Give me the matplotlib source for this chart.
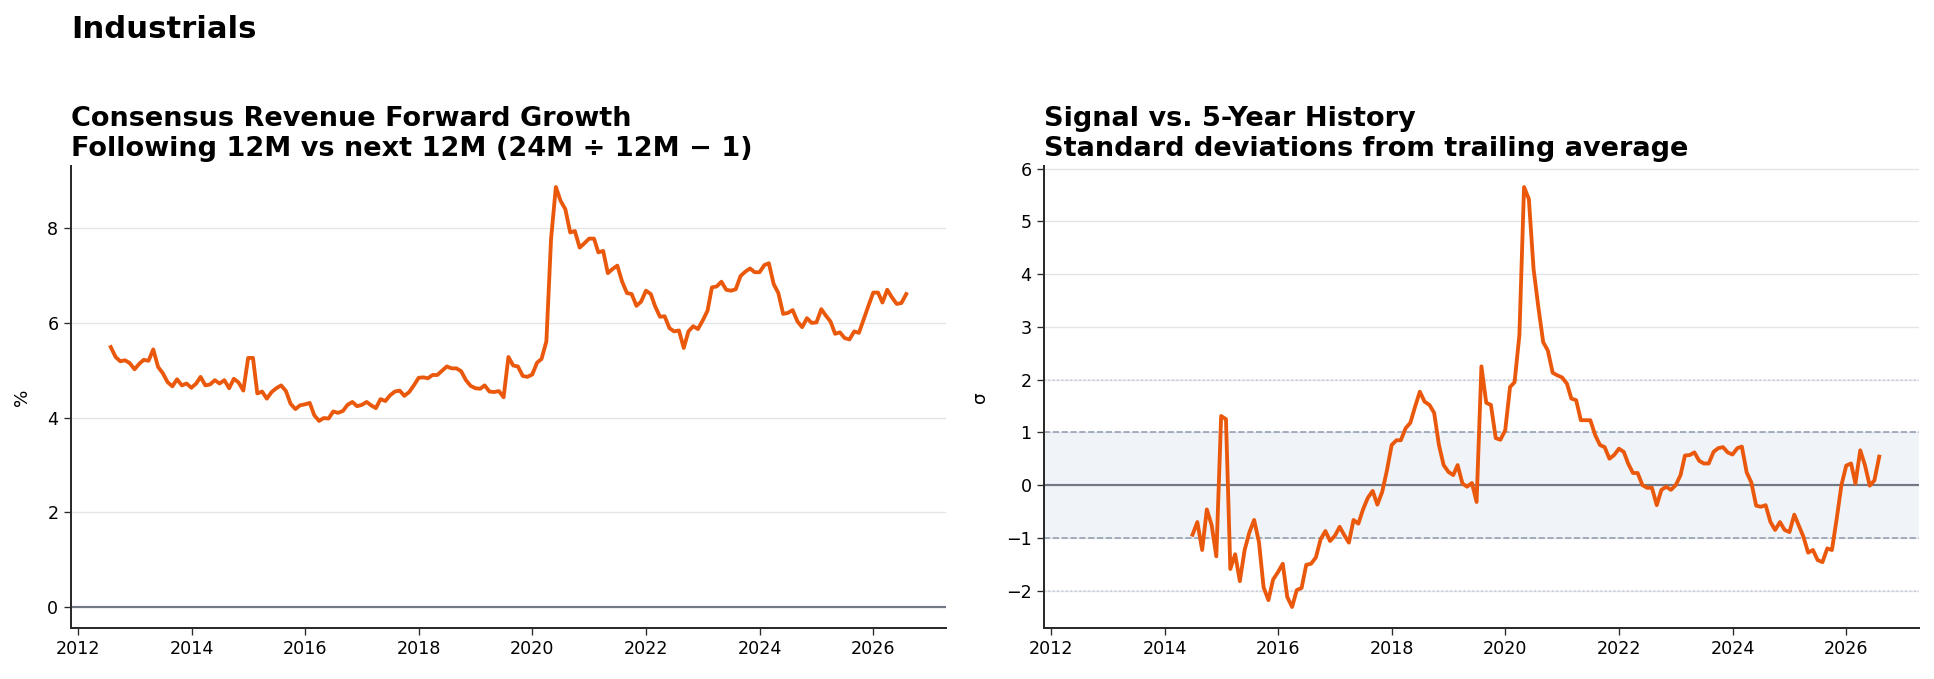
import numpy as np
import pandas as pd
import matplotlib
matplotlib.use('Agg')
import matplotlib.pyplot as plt
import matplotlib.dates as mdates

# monthly values
growth_start = '2012-07-31'
growth = [
    5.49, 5.28, 5.19, 5.21, 5.15, 5.02, 5.14, 5.22, 5.20, 5.44,
    5.07, 4.94, 4.75, 4.66, 4.81, 4.68, 4.72, 4.63, 4.72, 4.86,
    4.68, 4.70, 4.79, 4.72, 4.79, 4.62, 4.82, 4.74, 4.57, 5.26,
    5.26, 4.51, 4.55, 4.40, 4.54, 4.62, 4.68, 4.56, 4.29, 4.18,
    4.26, 4.28, 4.31, 4.05, 3.93, 3.99, 3.98, 4.13, 4.10, 4.14,
    4.27, 4.33, 4.24, 4.27, 4.33, 4.26, 4.20, 4.39, 4.35, 4.47,
    4.55, 4.57, 4.46, 4.54, 4.68, 4.84, 4.85, 4.83, 4.90, 4.90,
    4.99, 5.08, 5.04, 5.04, 4.98, 4.79, 4.67, 4.62, 4.61, 4.68,
    4.55, 4.54, 4.56, 4.43, 5.28,
    5.10, 5.08, 4.88, 4.86, 4.91, 5.16, 5.24, 5.61, 7.77, 8.87,
    8.58, 8.40, 7.91, 7.94, 7.59, 7.68, 7.78, 7.78, 7.49, 7.52,
    7.05, 7.14, 7.21, 6.87, 6.63, 6.61, 6.36, 6.45, 6.68, 6.61,
    6.35, 6.13, 6.14, 5.89, 5.82, 5.84, 5.47, 5.82, 5.93, 5.87,
    6.05, 6.26, 6.75, 6.77, 6.87, 6.70, 6.68, 6.71, 6.99, 7.08,
    7.15, 7.07, 7.07, 7.22, 7.26, 6.82, 6.63, 6.19, 6.21, 6.27,
    6.03, 5.91, 6.10, 6.00, 6.01, 6.29, 6.16, 6.03, 5.77, 5.80,
    5.68, 5.65, 5.82, 5.79, 6.08, 6.36, 6.64, 6.64, 6.43, 6.70,
    6.54, 6.40, 6.42, 6.61,
]

zscore_start = '2014-06-30'
zscore = [
    -0.94, -0.70, -1.23, -0.46, -0.76, -1.35, 1.31, 1.25, -1.59, -1.31,
    -1.82, -1.23, -0.90, -0.66, -1.08, -1.94, -2.18, -1.79, -1.65, -1.49,
    -2.12, -2.31, -1.99, -1.95, -1.51, -1.49, -1.37, -1.03, -0.87, -1.06,
    -0.96, -0.79, -0.94, -1.09, -0.66, -0.73, -0.46, -0.24, -0.11, -0.37,
    -0.13, 0.27, 0.76, 0.85, 0.85, 1.08, 1.18, 1.49, 1.77, 1.58,
    1.52, 1.37, 0.76,
    0.38, 0.25, 0.19, 0.38, 0.03, -0.03, 0.04, -0.32, 2.25, 1.56,
    1.52, 0.89, 0.86, 1.04, 1.86, 1.95, 2.84, 5.65, 5.42, 4.10,
    3.37, 2.71, 2.55, 2.13, 2.08, 2.04, 1.92, 1.64, 1.61, 1.23,
    1.23, 1.23, 0.95, 0.76, 0.72, 0.50, 0.57, 0.69, 0.63, 0.41,
    0.23, 0.23, 0.00, -0.05, -0.05, -0.38, -0.09, -0.03, -0.09, 0.00,
    0.19,
    0.56, 0.57, 0.62, 0.46, 0.41, 0.41, 0.63, 0.70, 0.72, 0.62,
    0.58, 0.70, 0.73, 0.24, 0.05, -0.39, -0.41, -0.38, -0.70, -0.85,
    -0.70, -0.85, -0.89, -0.56, -0.76, -0.98, -1.28, -1.23, -1.42, -1.46,
    -1.20, -1.23, -0.63, 0.00, 0.37, 0.41, 0.03, 0.66, 0.38, -0.01,
    0.09, 0.54,
]

growth_dates = pd.date_range(growth_start, periods=len(growth), freq='ME')
zscore_dates = pd.date_range(zscore_start, periods=len(zscore), freq='ME')

orange = '#ea580c'
grid_col = '#e2e4e8'
spine_col = '#2b2b2b'

W, H = 1934, 679
fig = plt.figure(figsize=(W / 120, H / 120), dpi=120)
ax1 = fig.add_axes([71 / W, 51 / H, 875 / W, 462 / H])
ax2 = fig.add_axes([1044 / W, 51 / H, 875 / W, 462 / H], sharex=ax1)

# left: forward growth
ax1.axhline(0, color='#737885', lw=1.3, zorder=2)
ax1.plot(growth_dates, growth, color=orange, lw=2.3, zorder=3)
ax1.set_ylabel('%', fontsize=11, labelpad=10)
ax1.set_yticks([0, 2, 4, 6, 8])
ax1.set_title('Consensus Revenue Forward Growth\nFollowing 12M vs next 12M (24M \u00f7 12M \u2212 1)',
              loc='left', fontsize=16.3, fontweight='bold', pad=6)

# right: z-score vs 5y history
ax2.axhspan(-1, 1, color='#f0f3f8', zorder=0, lw=0)
for lvl in (-1, 1):
    ax2.axhline(lvl, color='#94a0b6', ls='--', lw=1.0, zorder=1)
for lvl in (-2, 2):
    ax2.axhline(lvl, color='#c4ccd8', ls=':', lw=1.0, zorder=1)
ax2.axhline(0, color='#737885', lw=1.3, zorder=2)
ax2.plot(zscore_dates, zscore, color=orange, lw=2.3, zorder=3)
ax2.set_ylabel('\u03c3', fontsize=11, labelpad=10)
ax2.set_yticks(range(-2, 7))
ax2.set_title('Signal vs. 5-Year History\nStandard deviations from trailing average',
              loc='left', fontsize=16.3, fontweight='bold', pad=6)

for ax in (ax1, ax2):
    ax.yaxis.grid(True, color=grid_col, lw=0.8, zorder=0)
    ax.set_axisbelow(True)
    for s in ('top', 'right'):
        ax.spines[s].set_visible(False)
    for s in ('left', 'bottom'):
        ax.spines[s].set_color(spine_col)
        ax.spines[s].set_linewidth(1.2)
    ax.tick_params(labelsize=10.5, length=4, color=spine_col)
    ax.xaxis.set_major_locator(mdates.YearLocator(2))
    ax.xaxis.set_major_formatter(mdates.DateFormatter('%Y'))

fig.text(71 / W, 1 - 38 / H, 'Industrials', fontsize=18.4, fontweight='bold', va='baseline')

fig.savefig('out.png', dpi=120)
